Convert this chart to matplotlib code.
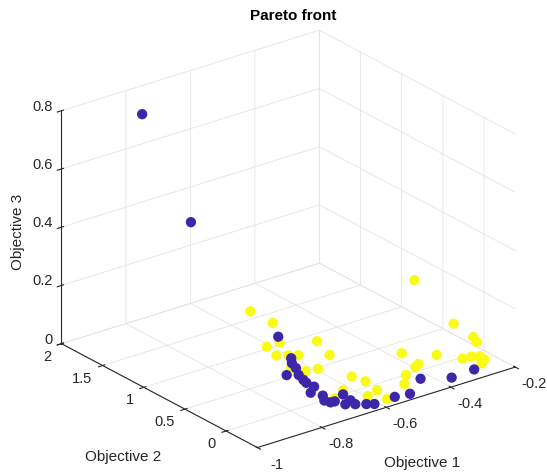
"""
Pareto front of a three-objective problem, drawn MATLAB-style
"""
import numpy as np
import matplotlib.pyplot as plt

plt.rcParams['font.family'] = ['Liberation Sans', 'DejaVu Sans']
plt.rcParams['grid.color'] = '#e4e4e4'
plt.rcParams['grid.linewidth'] = 0.6

# dominated points (yellow)
obj1_dom = [-0.512, -0.511, -0.30, -0.30, -0.29, -0.610, -0.570, -0.492, -0.624, -0.600,
            -0.580, -0.518, -0.371, -0.309, -0.378, -0.395, -0.272, -0.247, -0.231, -0.232,
            -0.253, -0.624, -0.592, -0.443, -0.554, -0.545, -0.479, -0.555, -0.622, -0.595,
            -0.668, -0.568, -0.642, -0.648, -0.27]
obj2_dom = [1.617, 1.349, -0.022, -0.262, -0.262, 1.033, 1.033, 0.885, 0.862, 0.810,
            0.766, 0.631, 0.330, 0.148, 0.100, 0.071, -0.021, -0.032, -0.067, -0.131,
            -0.176, 0.507, 0.482, -0.002, 0.221, 0.088, -0.125, -0.090, 0.059, -0.134,
            -0.018, -0.262, 0.613, 0.472, 0.572]
obj3_dom = [0.0, 0.0, 0.13, 0.12, 0.10, 0.0, 0.0, 0.0, 0.0, 0.0,
            0.0, 0.0, 0.0, 0.0, 0.0, 0.0, 0.0, 0.0, 0.0, 0.0,
            0.0, 0.0, 0.0, 0.0, 0.0, 0.0, 0.0, 0.0, 0.0, 0.0,
            0.0, 0.0, 0.0, 0.0, 0.18]

# non-dominated points (purple)
obj1_front = [-0.551, -0.605, -0.622, -0.632, -0.676, -0.652, -0.661, -0.666, -0.665, -0.694,
              -0.681, -0.696, -0.691, -0.679, -0.637, -0.669, -0.644, -0.649, -0.627, -0.611,
              -0.545, -0.504, -0.428, -0.363, -0.289, -0.78, -0.75]
obj2_front = [1.125, 0.756, 0.681, 0.593, 0.533, 0.481, 0.388, 0.333, 0.243, 0.171,
              0.075, -0.003, -0.057, -0.062, 0.001, -0.152, -0.117, -0.195, -0.243, -0.278,
              -0.267, -0.291, -0.122, -0.245, -0.229, 1.881, 1.406]
obj3_front = [0.0, 0.0, 0.0, 0.0, 0.0, 0.0, 0.0, 0.0, 0.0, 0.0,
              0.0, 0.0, 0.0, 0.0, 0.0, 0.0, 0.0, 0.0, 0.0, 0.0,
              0.0, 0.0, 0.0, 0.0, 0.0, 0.73, 0.42]

xticks = [-1, -0.8, -0.6, -0.4, -0.2]
yticks = [0, 0.5, 1, 1.5, 2]
zticks = [0, 0.2, 0.4, 0.6, 0.8]
xlim = (-1, -0.2)
ylim = (-0.38, 2)
zlim = (0, 0.8)

purple = (0.2422, 0.1504, 0.6603)
yellow = (0.9769, 0.9839, 0.0805)
dark = '#262626'

fig = plt.figure(figsize=(5.47, 4.73), dpi=100)
ax = fig.add_subplot(111, projection='3d')
ax.set_position([0.0155, -0.0186, 1.0, 1.0])
ax.set_proj_type('ortho')
ax.view_init(elev=24, azim=-127.5)
ax.set_box_aspect((1.02, 1.01, 0.8), zoom=1.075)

ax.scatter(obj1_dom, obj2_dom, obj3_dom, s=55, c=[yellow], edgecolors='none',
           depthshade=False, alpha=1)
ax.scatter(obj1_front, obj2_front, obj3_front, s=55, c=[purple], edgecolors='none',
           depthshade=False, alpha=1)

ax.set_xlim(*xlim)
ax.set_ylim(*ylim)
ax.set_zlim(*zlim)
ax.set_xticks(xticks)
ax.set_yticks(yticks)
ax.set_zticks(zticks)
# tick labels are placed by hand below, MATLAB style
ax.set_xticklabels([''] * len(xticks))
ax.set_yticklabels([''] * len(yticks))
ax.set_zticklabels([''] * len(zticks))

for axis in (ax.xaxis, ax.yaxis, ax.zaxis):
    axis.set_pane_color((1, 1, 1, 0))
    axis.pane.set_edgecolor((1, 1, 1, 0))
    axis.line.set_color(dark)
    axis.line.set_linewidth(0.8)
ax.tick_params(colors=dark)

fig.canvas.draw()
W, H = fig.bbox.width, fig.bbox.height


def to_fig(x, y, z):
    """Project a data point to figure fraction coordinates."""
    v = ax.M @ np.array([x, y, z, 1.0])
    px, py = ax.transData.transform((v[0] / v[3], v[1] / v[3]))
    return px / W, py / H


for t in xticks:
    fx, fy = to_fig(t, ylim[0], zlim[0])
    fig.text(fx + 19 / W, fy - 17 / H, f'{t:g}', ha='center', va='center',
             fontsize=10.5, color=dark)
for t in yticks:
    fx, fy = to_fig(xlim[0], t, zlim[0])
    fig.text(fx - 10 / W, fy - 13 / H, f'{t:g}', ha='right', va='center',
             fontsize=10.5, color=dark)
for t in zticks:
    fx, fy = to_fig(xlim[0], ylim[1], t)
    fig.text(fx - 9 / W, fy + 4 / H, f'{t:g}', ha='right', va='center',
             fontsize=10.5, color=dark)

# MATLAB keeps the axis labels horizontal, so place them as plain figure text
fig.text(422 / 547, 1 - 463 / 473, 'Objective 1', ha='center', va='center',
         fontsize=11, color=dark)
fig.text(123 / 547, 1 - 457 / 473, 'Objective 2', ha='center', va='center',
         fontsize=11, color=dark)
fig.text(18 / 547, 1 - 232 / 473, 'Objective 3', ha='center', va='center',
         fontsize=11, color=dark, rotation=90)
fig.text(293 / 547, 1 - 16 / 473, 'Pareto front', ha='center', va='center',
         fontsize=11, fontweight='bold')

plt.savefig('out.png', dpi=100)
